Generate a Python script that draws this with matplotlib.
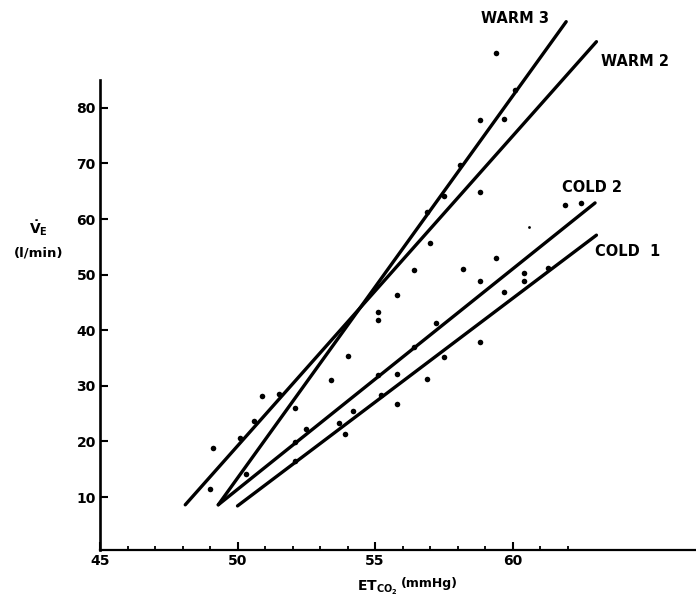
"""
Ventilation vs end-tidal CO2: warm and cold CO2 response lines with scattered points.
Writes out.png
"""
import matplotlib
matplotlib.use("Agg")  # headless
import matplotlib.pyplot as plt

et_co2 = [49.0, 49.1, 50.1, 50.3, 50.6, 50.9, 51.5, 52.1, 52.1, 52.1,
          52.5, 53.7, 53.4, 53.9, 54.0, 54.2, 55.1, 55.1, 55.1, 55.2,
          55.8, 55.8, 55.8, 56.4, 56.4, 56.9, 57.0, 57.2, 57.5, 57.5,
          56.9, 58.1, 58.2, 58.8, 58.8, 58.8, 59.7, 59.4, 60.1, 59.4,
          59.7, 60.4, 60.4, 61.3, 61.9, 62.5, 58.8]
v_e = [11.4, 18.8, 20.6, 14.1, 23.7, 28.2, 28.5, 26.0, 19.9, 16.5,
       22.2, 23.3, 31.0, 21.3, 35.4, 25.5, 43.3, 41.9, 32.0, 28.4,
       46.4, 26.7, 32.1, 50.9, 37.0, 31.2, 55.7, 41.3, 35.2, 64.2,
       61.3, 69.7, 51.0, 64.9, 48.9, 77.8, 78.0, 89.9, 83.2, 53.0,
       46.9, 50.3, 48.9, 51.2, 62.5, 62.9, 37.9]
# one faint extra point
faint_x = [60.6]
faint_y = [58.6]

# regression lines: name, start (x, y), end (x, y)
line_names = ["WARM 3", "WARM 2", "COLD 2", "COLD 1"]
line_x0 = [49.3, 48.1, 49.3, 50.0]
line_y0 = [8.6, 8.6, 8.6, 8.4]
line_x1 = [61.95, 63.05, 63.0, 63.05]
line_y1 = [95.5, 91.9, 62.9, 57.1]

x_ticks = [45, 50, 55, 60]
x_minor = [46, 47, 48, 49, 51, 52, 53, 54, 56, 57, 58, 59, 61, 62]
y_ticks = [10, 20, 30, 40, 50, 60, 70, 80]

# label anchors (left edge, vertical centre) in data units
label_pos = {"WARM 3": (58.85, 96.0), "WARM 2": (63.2, 88.4),
             "COLD 2": (61.8, 65.6), "COLD 1": (63.0, 54.2)}
label_text = {"WARM 3": "WARM 3", "WARM 2": "WARM 2",
              "COLD 2": "COLD 2", "COLD 1": "COLD  1"}

plt.rcParams["font.family"] = ["DejaVu Sans"]
plt.rcParams["font.weight"] = "bold"
plt.rcParams["mathtext.fontset"] = "custom"
plt.rcParams["mathtext.rm"] = "DejaVu Sans:bold"
plt.rcParams["mathtext.bf"] = "DejaVu Sans:bold"
plt.rcParams["mathtext.it"] = "DejaVu Sans:bold"

W, H = 696, 602
fig = plt.figure(figsize=(W / 100, H / 100), dpi=100)
ax = fig.add_axes([100 / W, 52 / H, 596 / W, 550 / H])
ax.set_xlim(45, 66.67)
ax.set_ylim(0.47, 99.4)

for name, xa, ya, xb, yb in zip(line_names, line_x0, line_y0, line_x1, line_y1):
    ax.plot([xa, xb], [ya, yb], color="black", lw=2.4, solid_capstyle="round")
    lx, ly = label_pos[name]
    ax.text(lx, ly, label_text[name], fontsize=10.5, fontweight="bold",
            ha="left", va="center")

ax.scatter(et_co2, v_e, s=16, color="black", zorder=3, linewidths=0)
ax.scatter(faint_x, faint_y, s=4, color="black", zorder=3, linewidths=0)

for side in ["top", "right"]:
    ax.spines[side].set_visible(False)
ax.spines["left"].set_linewidth(1.9)
ax.spines["bottom"].set_linewidth(1.6)
ax.spines["left"].set_bounds(0.47, 85)

ax.set_xticks(x_ticks)
ax.set_xticks(x_minor, minor=True)
ax.set_yticks(y_ticks)
ax.tick_params(axis="both", which="major", direction="in", length=6, width=1.5,
               labelsize=10, pad=3)
ax.tick_params(axis="x", which="minor", direction="in", length=3, width=1.3)
for lab in ax.get_xticklabels() + ax.get_yticklabels():
    lab.set_fontweight("bold")

# axis titles drawn as figure text
fig.text(398 / W, 1 - 588 / H, r"ET$_{\mathregular{CO_2}}$", fontsize=10,
         fontweight="bold", ha="right", va="center")
fig.text(401 / W, 1 - 584 / H, "(mmHg)", fontsize=9, fontweight="bold",
         ha="left", va="center")
fig.text(38 / W, 1 - 228 / H, r"$\dot{\mathregular{V}}_{\mathregular{E}}$", fontsize=10,
         fontweight="bold", ha="center", va="center")
fig.text(39 / W, 1 - 253 / H, "(l/min)", fontsize=9.5, fontweight="bold",
         ha="center", va="center")

fig.savefig("out.png", dpi=100)
plt.close(fig)
